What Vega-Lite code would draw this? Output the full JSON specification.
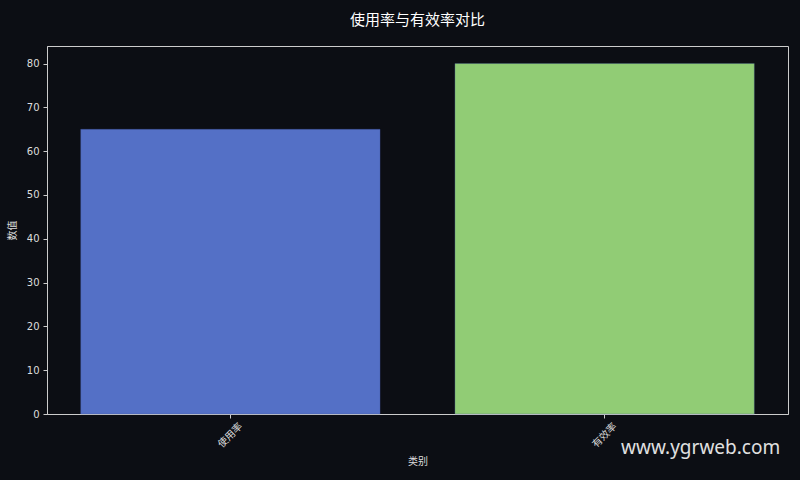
{
  "$schema": "https://vega.github.io/schema/vega-lite/v6.json",
  "background": "#0c0e14",
  "autosize": {"type": "none"},
  "padding": {"left": 47, "top": 46, "right": 12, "bottom": 66},
  "title": {
    "text": "使用率与有效率对比",
    "fontSize": 15,
    "fontWeight": "normal",
    "color": "#ffffff",
    "font": "Noto Sans CJK SC",
    "offset": 18,
    "anchor": "middle"
  },
  "width": 741,
  "height": 368,
  "data": {
    "values": [
      {"category": "使用率", "value": 65},
      {"category": "有效率", "value": 80}
    ]
  },
  "layer": [
    {
      "mark": {"type": "bar", "strokeWidth": 1, "stroke": "#3a4f94", "strokeOpacity": 0.3},
      "encoding": {
        "x": {
          "field": "category",
          "type": "nominal",
          "sort": null,
          "title": "类别",
          "scale": {"paddingInner": 0.2, "paddingOuter": 0.09},
          "axis": {"labelAngle": -45, "labelAlign": "center", "labelBaseline": "middle", "labelPadding": 17, "titlePadding": 7}
        },
        "y": {
          "field": "value",
          "type": "quantitative",
          "title": "数值",
          "scale": {"domain": [0, 84], "nice": false},
          "axis": {"values": [0, 10, 20, 30, 40, 50, 60, 70, 80], "labelFont": "DejaVu Sans", "labelPadding": 4}
        },
        "color": {
          "field": "category",
          "type": "nominal",
          "scale": {"domain": ["使用率", "有效率"], "range": ["#5470c6", "#91cc75"]},
          "legend": null
        }
      }
    },
    {
      "data": {"values": [{"note": "www.ygrweb.com"}]},
      "mark": {
        "type": "text",
        "font": "Noto Sans",
        "fontSize": 19,
        "color": "#e0e0e0",
        "dx": 96,
        "clip": false
      },
      "encoding": {
        "x": {"datum": "有效率"},
        "y": {"datum": -7.7},
        "text": {"field": "note"}
      }
    }
  ],
  "config": {
    "font": "Noto Sans CJK SC",
    "view": {"stroke": "#cccccc", "strokeWidth": 1},
    "axis": {
      "grid": false,
      "domainColor": "#cccccc",
      "tickColor": "#cccccc",
      "labelColor": "#dddddd",
      "titleColor": "#dddddd",
      "labelFontSize": 10,
      "titleFontSize": 10,
      "titleFontWeight": "normal",
      "tickSize": 4,
      "labelPadding": 3
    },
    "axisY": {"titlePadding": 9}
  }
}
